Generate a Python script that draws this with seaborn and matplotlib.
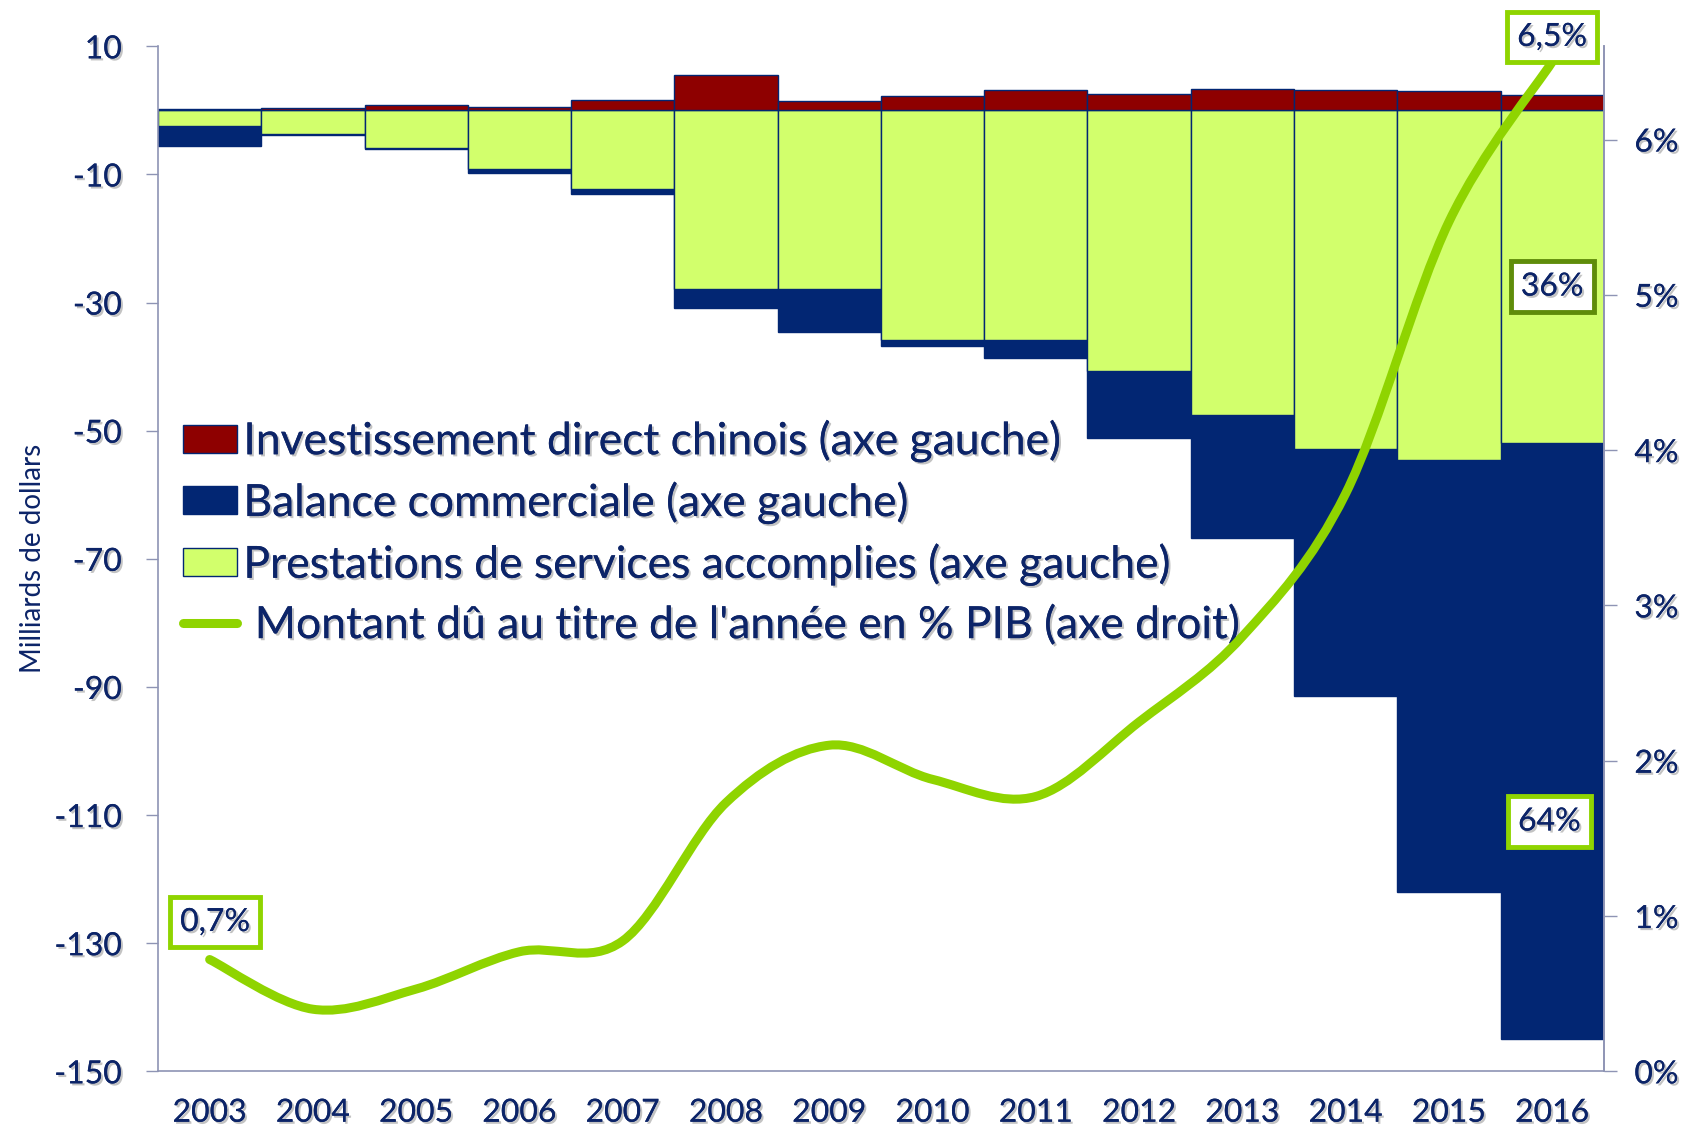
import matplotlib
matplotlib.use("Agg")
import matplotlib.pyplot as plt
import matplotlib.patheffects as pe
from matplotlib.path import Path
from matplotlib.patches import PathPatch, Patch
from matplotlib.lines import Line2D
import numpy as np
import pandas as pd
import seaborn as sns

# data
years = [str(y) for y in range(2003, 2017)]
invest = [0.15, 0.3, 0.8, 0.6, 1.7, 5.6, 1.4, 2.2, 3.2, 2.6, 3.4, 3.2, 3.0, 2.4]
services = [-2.5, -3.75, -5.9, -9.2, -12.3, -27.9, -27.9, -35.9, -35.9, -40.7, -47.6, -52.8, -54.6, -51.9]
balance = [-3.0, -0.1, -0.1, -0.5, -0.8, -3.0, -6.7, -0.9, -2.7, -10.4, -19.1, -38.6, -67.4, -93.1]
du_pib = [0.72, 0.40, 0.53, 0.77, 0.84, 1.73, 2.10, 1.88, 1.77, 2.25, 2.80, 3.72, 5.47, 6.5]

left_ticks = [10, -10, -30, -50, -70, -90, -110, -130, -150]
right_ticks = [0, 1, 2, 3, 4, 5, 6]

RED = "#8e0000"
NAVY = "#022673"
LGREEN = "#d2ff6c"
LINE = "#8fd400"
DARKGREEN = "#5f8c0a"
TXT = "#0c2468"
SPINE = "#8e94b4"

sns.set_style("white")
plt.rcParams["font.family"] = ["Lato", "DejaVu Sans"]

shadow = [pe.withSimplePatchShadow(offset=(1.5, -1.5), shadow_rgbFace="#7a7a7a", alpha=0.45), pe.Normal()]

df = pd.DataFrame({"year": years, "invest": invest, "services": services, "balance": balance, "pib": du_pib})
df["total"] = df["services"] + df["balance"]

fig = plt.figure(figsize=(16.9, 11.25), dpi=100)
ax = fig.add_axes([0.0935, 0.0477, 0.8555, 0.9111])

common = dict(x="year", width=1.0, saturation=1, errorbar=None, edgecolor=NAVY, linewidth=1.0, ax=ax)
sns.barplot(data=df, y="total", color=NAVY, **common)
sns.barplot(data=df, y="services", color=LGREEN, **common)
sns.barplot(data=df, y="invest", color=RED, **common)

ax.set_xlim(-0.5, len(years) - 0.5)
ax.set_ylim(-150, 10)
ax.set_yticks(left_ticks)
ax.set_yticklabels([str(t) for t in left_ticks])
ax.set_xticks(np.arange(len(years) + 1) - 0.5)
ax.set_xticklabels([])
ax.set_xticks(np.arange(len(years)), minor=True)
ax.set_xticklabels(years, minor=True)
ax.tick_params(axis="x", which="major", length=10, width=1, color=SPINE, direction="out")
ax.tick_params(axis="x", which="minor", length=0, pad=19, labelsize=23, labelcolor=TXT)
ax.tick_params(axis="y", length=9, width=1, color=SPINE, direction="out", pad=17, labelsize=23, labelcolor=TXT)
ax.set_xlabel("")
ax.set_ylabel("Milliards de dollars", fontsize=20, color=TXT, labelpad=6)
for s in ["left", "bottom", "right"]:
    ax.spines[s].set_color(SPINE)
    ax.spines[s].set_linewidth(1.2)
ax.spines["top"].set_visible(False)

# right axis: smoothed line (Excel-style bezier through the points)
ax2 = ax.twinx()
ax2.set_ylim(0, 6.6)
ax2.set_yticks(right_ticks)
ax2.set_yticklabels([f"{t}%" for t in right_ticks])
ax2.tick_params(axis="y", length=9, width=1, color=SPINE, direction="out", pad=13, labelsize=23, labelcolor=TXT)
for s in ["left", "bottom", "top"]:
    ax2.spines[s].set_visible(False)
ax2.spines["right"].set_color(SPINE)
ax2.spines["right"].set_linewidth(1.2)

pts = np.column_stack([np.arange(len(years)), df["pib"].values])
verts = [tuple(pts[0])]
codes = [Path.MOVETO]
n = len(pts)
for i in range(n - 1):
    p_prev = pts[max(i - 1, 0)]
    p_next2 = pts[min(i + 2, n - 1)]
    c1 = pts[i] + (pts[i + 1] - p_prev) / 6
    c2 = pts[i + 1] - (p_next2 - pts[i]) / 6
    verts += [tuple(c1), tuple(c2), tuple(pts[i + 1])]
    codes += [Path.CURVE4] * 3
ax2.add_patch(PathPatch(Path(verts, codes), fill=False, edgecolor=LINE, lw=6.5, capstyle="round", zorder=5))

# value boxes
def box(axis, x, y, txt, ec, dy=0, dx=0):
    t = axis.annotate(txt, xy=(x, y), xytext=(dx, dy), textcoords="offset points",
                      ha="center", va="center", fontsize=23, color=TXT, zorder=6,
                      bbox=dict(boxstyle="square,pad=0.32", fc="white", ec=ec, lw=3.5))
    t.set_path_effects(shadow)

box(ax2, 0, du_pib[0], "0,7%", LINE, dy=27, dx=4)
box(ax2, len(years) - 1, du_pib[-1], "6,5%", LINE, dy=18)
tot = -df["total"].iloc[-1]
box(ax, len(years) - 1, -27.5, f"{round(-services[-1] / tot * 100)}%", DARKGREEN)
box(ax, len(years) - 1, -111, f"{round(-balance[-1] / tot * 100)}%", LINE, dx=-2)

handles = [
    Patch(facecolor=RED, edgecolor=NAVY, lw=1),
    Patch(facecolor=NAVY, edgecolor=NAVY, lw=1),
    Patch(facecolor=LGREEN, edgecolor=NAVY, lw=1),
    Line2D([0], [0], color=LINE, lw=6.5, solid_capstyle="round"),
]
labels = [
    "Investissement direct chinois (axe gauche)",
    "Balance commerciale (axe gauche)",
    "Prestations de services accomplies (axe gauche)",
    " Montant dû au titre de l'année en % PIB (axe droit)",
]
leg = ax.legend(handles, labels, loc="upper left", bbox_to_anchor=(0.1085, 0.627),
                bbox_transform=fig.transFigure, frameon=False, fontsize=32,
                handlelength=1.2, handleheight=0.6, handletextpad=0.15,
                labelspacing=0.43, borderpad=0, borderaxespad=0)
for t in leg.get_texts():
    t.set_color(TXT)
    t.set_path_effects(shadow)

for t in ax.get_yticklabels() + ax.get_xticklabels(minor=True) + ax2.get_yticklabels():
    t.set_path_effects(shadow)

fig.savefig("out.png", dpi=100)
